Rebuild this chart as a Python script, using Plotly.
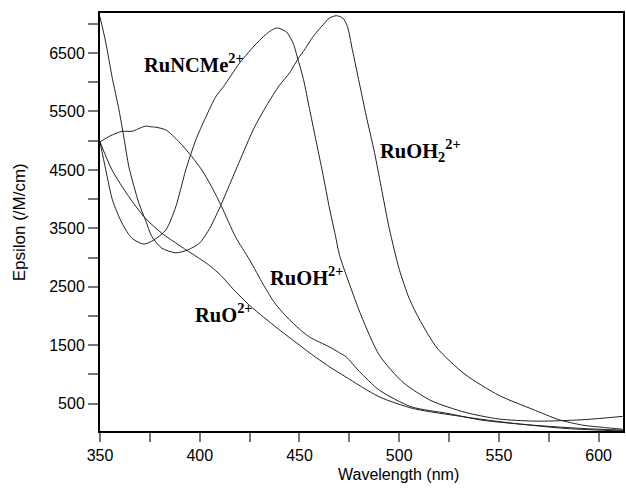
import plotly.graph_objects as go

# RuOH2^2+
wl_aqua = [350, 352.9, 356, 359.5, 362, 364.5, 369.5, 372.8, 376, 381, 388, 394, 400, 405, 410,
           415, 420, 427, 433.5, 440, 445, 450, 452, 457, 462, 465, 468.5, 471.7, 474, 476.5,
           480, 483.5, 487.6, 491, 495, 500, 505, 510, 519, 533, 550, 567, 580, 592, 603, 612]
eps_aqua = [7120, 6680, 6100, 5530, 5050, 4550, 3930, 3640, 3360, 3160, 3080, 3130, 3250, 3500, 3850,
            4250, 4650, 5200, 5600, 5950, 6160, 6440, 6530, 6790, 6990, 7100, 7140, 7100, 6960, 6560,
            5990, 5420, 4800, 4200, 3500, 2800, 2300, 1950, 1450, 1000, 640, 400, 225, 130, 90, 60]

# RuNCMe2+
wl_ncme = [350, 352.9, 356.2, 361, 366, 372, 377, 383, 388, 393, 398, 403, 408, 412, 420, 428.6,
           435, 438.8, 443.5, 446.8, 449.3, 452, 455, 458, 461.8, 465, 468, 470, 475, 481, 490, 502,
           516, 533, 550, 567, 575, 593, 612]
eps_ncme = [4980, 4500, 3990, 3590, 3330, 3230, 3300, 3470, 3870, 4500, 5010, 5400, 5750, 5930, 6330, 6670,
            6870, 6930, 6860, 6670, 6385, 6050, 5550, 5050, 4420, 3850, 3380, 3050, 2550, 2000, 1330, 860,
            550, 350, 235, 200, 200, 225, 280]

# RuOH2+
wl_oh = [350, 355, 361, 366, 369, 372.8, 375, 378, 383, 389.5, 396, 401, 406, 411, 418, 425, 432,
         437, 441.5, 448.5, 455, 465, 470, 473.4, 480, 490, 506, 524.5, 541.5, 567, 592.6, 612.7]
eps_oh = [4980, 5080, 5160, 5160, 5200, 5250, 5240, 5230, 5185, 4985, 4730, 4500, 4210, 3870, 3350, 2960, 2530,
          2250, 2060, 1820, 1640, 1470, 1370, 1300, 1050, 730, 445, 330, 215, 130, 72, 44]

# RuO2+
wl_o = [350, 356, 364.5, 372.8, 381, 389.5, 395, 400, 405, 411, 417, 425, 432, 440, 448.5, 455,
        465, 473, 490, 507, 533, 558, 584, 612.7]
eps_o = [4980, 4500, 4040, 3670, 3415, 3215, 3090, 2980, 2860, 2680, 2450, 2180, 1980, 1760, 1540, 1370,
         1130, 960, 615, 415, 270, 158, 72, 30]

labels = ["<b>RuNCMe<sup>2+</sup></b>", "<b>RuOH<sub>2</sub><sup>2+</sup></b>",
          "<b>RuOH<sup>2+</sup></b>", "<b>RuO<sup>2+</sup></b>"]
label_x = [370.9, 489.6, 434, 396.6]
label_y = [6330, 4825, 2683, 2049]

fig = go.Figure()
for wl, eps in [(wl_aqua, eps_aqua), (wl_ncme, eps_ncme), (wl_oh, eps_oh), (wl_o, eps_o)]:
    fig.add_trace(go.Scatter(x=wl, y=eps, mode="lines",
                             line=dict(color="#222222", width=1, shape="spline", smoothing=0.7),
                             showlegend=False, hoverinfo="skip"))

for t, x, y in zip(labels, label_x, label_y):
    fig.add_annotation(x=x, y=y, xref="x", yref="y", text=t, showarrow=False,
                       xanchor="left", yanchor="middle",
                       font=dict(family="Liberation Serif", size=20.5, color="black"))

# axis titles
fig.add_annotation(x=(400 - 100) / 525.0, y=0, xref="paper", yref="paper", text="Wavelength (nm)",
                   showarrow=False, xanchor="center", yanchor="top", yshift=-33,
                   font=dict(family="Liberation Sans", size=16, color="black"))
fig.add_annotation(x=(19 - 100) / 525.0, y=0.5, xref="paper", yref="paper", text="Epsilon (/M/cm)",
                   showarrow=False, xanchor="center", yanchor="middle", textangle=-90,
                   font=dict(family="Liberation Sans", size=17, color="black"))

fig.update_layout(
    width=626, height=496,
    margin=dict(l=100, r=1, t=13, b=65),
    paper_bgcolor="white", plot_bgcolor="white",
    font=dict(family="Liberation Sans", size=16, color="black"),
    xaxis=dict(range=[350, 612.2], tick0=350, dtick=50, ticks="outside", ticklen=9,
               tickcolor="#777777", tickwidth=1.5, showline=True, linecolor="black", linewidth=2,
               mirror=True, showgrid=False, zeroline=False,
               minor=dict(dtick=25, tick0=350, ticks="outside", ticklen=9, tickcolor="#777777", tickwidth=1.5)),
    yaxis=dict(range=[30, 7186], tick0=500, dtick=1000, ticks="outside", ticklen=10,
               tickcolor="#777777", tickwidth=1.5, showline=True, linecolor="black", linewidth=2,
               mirror=True, showgrid=False, zeroline=False,
               minor=dict(dtick=500, tick0=0, ticks="outside", ticklen=10, tickcolor="#777777", tickwidth=1.5)),
)

fig.write_html("out.html")
